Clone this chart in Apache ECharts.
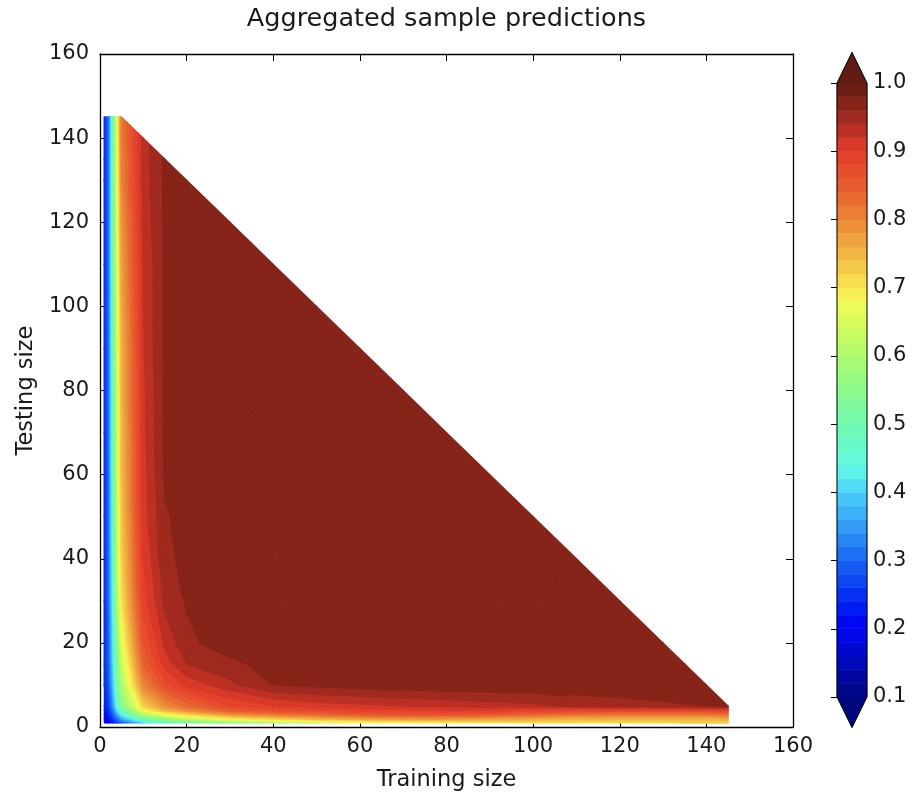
<!DOCTYPE html>
<html>
<head>
<meta charset="utf-8">
<script src="https://cdn.jsdelivr.net/npm/echarts/dist/echarts.min.js"></script>
<style>
html,body{margin:0;padding:0;background:#fff;}
#chart{width:913px;height:795px;}
</style>
</head>
<body>
<div id="chart"></div>
<script>
// ---------------- data ----------------
const trainSizes = [1,2,3,4,5,10,15,20,30,40,50,60,70,80,90,100,110,120,130,135,140,145];
const testSizes  = [1,2,3,4,5,10,15,20,30,40,50,60,70,80,90,100,110,120,130,135,140,145];

// one row per testing size, one value per training size (train + test <= 150)
const scoreTest1   = [0.19,0.21,0.23,0.26,0.29,0.40,0.46,0.50,0.55,0.59,0.62,0.65,0.67,0.68,0.69,0.70,0.70,0.71,0.71,0.72,0.72,0.72];
const scoreTest2   = [0.20,0.22,0.26,0.31,0.36,0.50,0.57,0.62,0.69,0.72,0.75,0.77,0.78,0.78,0.77,0.76,0.75,0.75,0.75,0.75,0.75,0.76];
const scoreTest3   = [0.21,0.24,0.29,0.36,0.43,0.60,0.67,0.71,0.78,0.81,0.83,0.85,0.86,0.86,0.85,0.83,0.82,0.81,0.81,0.81,0.81,0.82];
const scoreTest4   = [0.22,0.25,0.32,0.41,0.49,0.68,0.75,0.79,0.85,0.87,0.88,0.89,0.895,0.90,0.90,0.89,0.88,0.88,0.88,0.88,0.885,0.89];
const scoreTest5   = [0.23,0.26,0.34,0.45,0.54,0.72,0.79,0.83,0.88,0.90,0.91,0.915,0.92,0.925,0.93,0.935,0.945,0.95,0.955,0.958,0.96,0.962];
const scoreTest10  = [0.24,0.28,0.38,0.50,0.60,0.80,0.87,0.905,0.935,0.96,0.965,0.97,0.972,0.975,0.975,0.975,0.972,0.975,0.976,0.976,0.976];
const scoreTest15  = [0.24,0.29,0.40,0.53,0.63,0.84,0.91,0.94,0.955,0.968,0.97,0.972,0.975,0.975,0.975,0.975,0.975,0.976,0.977,0.977];
const scoreTest20  = [0.24,0.29,0.41,0.55,0.66,0.86,0.925,0.955,0.972,0.975,0.976,0.977,0.977,0.977,0.977,0.976,0.975,0.977,0.977];
const scoreTest30  = [0.24,0.30,0.43,0.59,0.70,0.89,0.945,0.962,0.972,0.975,0.977,0.978,0.977,0.976,0.977,0.978,0.977,0.977];
const scoreTest40  = [0.24,0.30,0.44,0.61,0.72,0.90,0.955,0.965,0.972,0.976,0.977,0.977,0.974,0.977,0.978,0.977,0.977];
const scoreTest50  = [0.24,0.30,0.45,0.62,0.73,0.91,0.958,0.966,0.972,0.976,0.977,0.978,0.977,0.977,0.977,0.977];
const scoreTest60  = [0.24,0.30,0.46,0.63,0.74,0.912,0.963,0.967,0.972,0.977,0.974,0.977,0.978,0.977,0.977];
const scoreTest70  = [0.24,0.30,0.46,0.63,0.74,0.915,0.963,0.967,0.972,0.976,0.977,0.978,0.977,0.977];
const scoreTest80  = [0.24,0.30,0.46,0.63,0.75,0.915,0.964,0.968,0.972,0.974,0.977,0.978,0.977];
const scoreTest90  = [0.24,0.30,0.47,0.64,0.75,0.918,0.964,0.968,0.972,0.977,0.978,0.977];
const scoreTest100 = [0.24,0.30,0.47,0.64,0.76,0.92,0.964,0.968,0.972,0.977,0.978];
const scoreTest110 = [0.24,0.30,0.48,0.65,0.77,0.92,0.964,0.968,0.972,0.976];
const scoreTest120 = [0.24,0.30,0.48,0.66,0.78,0.925,0.964,0.97,0.975];
const scoreTest130 = [0.24,0.30,0.48,0.66,0.80,0.928,0.964,0.97];
const scoreTest135 = [0.24,0.30,0.48,0.66,0.80,0.93,0.964];
const scoreTest140 = [0.24,0.30,0.48,0.66,0.81,0.93];
const scoreTest145 = [0.24,0.30,0.48,0.66,0.81];

const scoreRows = [scoreTest1,scoreTest2,scoreTest3,scoreTest4,scoreTest5,scoreTest10,scoreTest15,scoreTest20,
  scoreTest30,scoreTest40,scoreTest50,scoreTest60,scoreTest70,scoreTest80,scoreTest90,scoreTest100,
  scoreTest110,scoreTest120,scoreTest130,scoreTest135,scoreTest140,scoreTest145];

// contour levels (colour bar bands)
const levels = [0.10,0.12,0.14,0.16,0.18,0.20,0.22,0.24,0.26,0.28,0.30,0.32,0.34,0.36,0.38,0.40,
  0.42,0.44,0.46,0.48,0.50,0.52,0.54,0.56,0.58,0.60,0.62,0.64,0.66,0.68,0.70,0.72,0.74,0.76,0.78,
  0.80,0.82,0.84,0.86,0.88,0.90,0.92,0.94,0.96,0.98,1.00];

const titleText = 'Aggregated sample predictions';
const xName = 'Training size';
const yName = 'Testing size';

// ---------------- colour map (jet) ----------------
const jetR = [[0,0],[0.35,0],[0.66,1],[0.89,1],[1,0.5]];
const jetG = [[0,0],[0.125,0],[0.375,1],[0.64,1],[0.91,0],[1,0]];
const jetB = [[0,0.5],[0.11,1],[0.34,1],[0.65,0],[1,0]];
function seg(pts, t){
  t = Math.max(0, Math.min(1, t));
  for (let k = 0; k < pts.length - 1; k++) {
    if (t <= pts[k+1][0]) {
      const a = pts[k], b = pts[k+1];
      return a[1] + (b[1]-a[1]) * (t - a[0]) / (b[0] - a[0]);
    }
  }
  return pts[pts.length-1][1];
}
function toLin(c){ return c <= 0.04045 ? c/12.92 : Math.pow((c+0.055)/1.055, 2.4); }
function toGam(c){ c = Math.max(0, Math.min(1, c)); return c <= 0.0031308 ? 12.92*c : 1.055*Math.pow(c, 1/2.4) - 0.055; }
function jetColor(t){
  const r = toLin(seg(jetR,t)), g = toLin(seg(jetG,t)), b = toLin(seg(jetB,t));
  // screen colour rendition of the reference
  const R = toGam(0.8225*r + 0.1774*g);
  const G = toGam(0.0332*r + 0.9669*g);
  const B = toGam(0.0171*r + 0.0724*g + 0.9108*b);
  const r8 = Math.round(255 * Math.pow(R, 1.25));
  const g8 = Math.round(G * 255 * 0.96 + 8);
  const b8 = Math.round(B * 255 * 0.96 + 8);
  return 'rgb(' + r8 + ',' + g8 + ',' + b8 + ')';
}
const vMin = levels[0], vMax = levels[levels.length-1];
const bandColors = [];
for (let k = 0; k < levels.length - 1; k++) {
  bandColors.push(jetColor(((levels[k]+levels[k+1])/2 - vMin)/(vMax - vMin)));
}
const underColor = jetColor(0), overColor = jetColor(1);

// ---------------- triangles of the sampled grid ----------------
const triangles = [];
function pt(i, j){
  const row = scoreRows[j];
  if (!row || i >= row.length) return null;
  return [trainSizes[i], testSizes[j], row[i]];
}
for (let j = 0; j < testSizes.length - 1; j++) {
  for (let i = 0; i < trainSizes.length - 1; i++) {
    const bl = pt(i,j), br = pt(i+1,j), tl = pt(i,j+1), tr = pt(i+1,j+1);
    if (bl && br && tl) triangles.push([].concat(bl, br, tl));
    if (br && tr && tl) triangles.push([].concat(br, tr, tl));
  }
}

function clip(poly, lvl, above){
  const out = [];
  const inside = p => above ? p[2] >= lvl : p[2] <= lvl;
  for (let k = 0; k < poly.length; k++) {
    const cur = poly[k], prev = poly[(k + poly.length - 1) % poly.length];
    const ci = inside(cur), pi = inside(prev);
    if (ci) {
      if (!pi) out.push(cross(prev, cur, lvl));
      out.push(cur);
    } else if (pi) {
      out.push(cross(prev, cur, lvl));
    }
  }
  return out;
}
function cross(a, b, lvl){
  const t = (lvl - a[2]) / (b[2] - a[2]);
  return [a[0] + t*(b[0]-a[0]), a[1] + t*(b[1]-a[1]), lvl];
}

const FONT = 'DejaVu Sans';
const TXT = '#1a1a1a';

const chart = echarts.init(document.getElementById('chart'), null, {renderer: 'canvas'});

const axisCommon = {
  type: 'value', min: 0, max: 160, interval: 20,
  axisLine: {show: true, onZero: false, lineStyle: {color: '#000', width: 1.3}},
  axisTick: {show: true, inside: true, length: 7, lineStyle: {color: '#000', width: 1}},
  splitLine: {show: false}
};

const option = {
  animation: false,
  backgroundColor: '#fff',
  title: {
    text: titleText, left: 446.5, top: 6, textAlign: 'center', padding: 0,
    textStyle: {fontFamily: FONT, fontSize: 25.5, fontWeight: 'normal', color: TXT}
  },
  grid: [
    {left: 100, top: 54, width: 693, height: 673, containLabel: false, outerBoundsMode: 'none'},
    {left: 837, top: 83, width: 30, height: 614, containLabel: false, outerBoundsMode: 'none'}
  ],
  xAxis: [
    Object.assign({}, axisCommon, {
      gridIndex: 0, position: 'bottom', name: xName, nameLocation: 'middle', nameGap: 42,
      nameTextStyle: {fontFamily: FONT, fontSize: 22.5, color: TXT},
      axisLabel: {show: true, margin: 9, fontFamily: FONT, fontSize: 21, color: TXT, showMinLabel: true, showMaxLabel: true}
    }),
    Object.assign({}, axisCommon, {gridIndex: 0, position: 'top', axisLabel: {show: false}}),
    {gridIndex: 1, type: 'value', min: 0, max: 1, show: false}
  ],
  yAxis: [
    Object.assign({}, axisCommon, {
      gridIndex: 0, position: 'left', name: yName, nameLocation: 'middle', nameGap: 60, nameRotate: 90,
      nameTextStyle: {fontFamily: FONT, fontSize: 22.5, color: TXT},
      axisLabel: {show: true, margin: 11, fontFamily: FONT, fontSize: 21, color: TXT, showMinLabel: true, showMaxLabel: true}
    }),
    Object.assign({}, axisCommon, {gridIndex: 0, position: 'right', axisLabel: {show: false}}),
    {
      gridIndex: 1, type: 'value', position: 'right', min: vMin, max: vMax, interval: 0.1,
      axisLine: {show: false},
      axisTick: {show: true, inside: true, length: 6, lineStyle: {color: '#000', width: 1}},
      splitLine: {show: false},
      axisLabel: {show: true, margin: 6, fontFamily: FONT, fontSize: 21, color: TXT,
        showMinLabel: true, showMaxLabel: true, formatter: v => v.toFixed(1)}
    }
  ],
  series: [
    {
      type: 'custom', name: 'contour', xAxisIndex: 0, yAxisIndex: 0, silent: true,
      encode: {x: [0,3,6], y: [1,4,7]},
      data: triangles,
      renderItem: function(params, api){
        const tri = [
          [api.value(0), api.value(1), api.value(2)],
          [api.value(3), api.value(4), api.value(5)],
          [api.value(6), api.value(7), api.value(8)]
        ];
        const lo = Math.min(tri[0][2], tri[1][2], tri[2][2]);
        const hi = Math.max(tri[0][2], tri[1][2], tri[2][2]);
        const children = [];
        for (let k = 0; k < levels.length - 1; k++) {
          const a = levels[k], b = levels[k+1];
          if (b < lo || a > hi) continue;
          let p = clip(tri, a, true);
          if (p.length < 3) continue;
          p = clip(p, b, false);
          if (p.length < 3) continue;
          const pts = p.map(q => api.coord([q[0], q[1]]));
          const c = bandColors[k];
          children.push({type: 'polygon', shape: {points: pts}, style: {fill: c, stroke: c, lineWidth: 1.2, lineJoin: 'round'}, silent: true});
        }
        return {type: 'group', children: children};
      },
      z: 1
    },
    {
      type: 'custom', name: 'colorbar', xAxisIndex: 2, yAxisIndex: 2, silent: true, clip: false,
      data: levels.slice(0, -1).map((v, k) => [v, levels[k+1]]),
      renderItem: function(params, api){
        const p1 = api.coord([0, api.value(0)]);
        const p2 = api.coord([1, api.value(1)]);
        const c = bandColors[params.dataIndex];
        return {type: 'rect', shape: {x: p1[0], y: p2[1], width: p2[0]-p1[0], height: p1[1]-p2[1]},
          style: {fill: c, stroke: c, lineWidth: 0.6}, silent: true};
      },
      z: 2
    },
    {
      type: 'custom', name: 'colorbarFrame', xAxisIndex: 2, yAxisIndex: 2, silent: true, clip: false,
      data: [[vMin, vMax]],
      renderItem: function(params, api){
        const a = api.coord([0, api.value(1)]);
        const b = api.coord([1, api.value(1)]);
        const c = api.coord([1, api.value(0)]);
        const d = api.coord([0, api.value(0)]);
        const ext = 0.05 * (d[1] - a[1]);
        const tipTop = [(a[0]+b[0])/2, a[1] - ext];
        const tipBot = [(c[0]+d[0])/2, c[1] + ext];
        return {type: 'group', children: [
          {type: 'polygon', shape: {points: [a, tipTop, b]}, style: {fill: overColor}},
          {type: 'polygon', shape: {points: [d, c, tipBot]}, style: {fill: underColor}},
          {type: 'polygon', shape: {points: [a, tipTop, b, c, tipBot, d]},
            style: {fill: null, stroke: '#000', lineWidth: 1}}
        ]};
      },
      z: 3
    }
  ]
};
chart.setOption(option);
</script>
</body>
</html>
